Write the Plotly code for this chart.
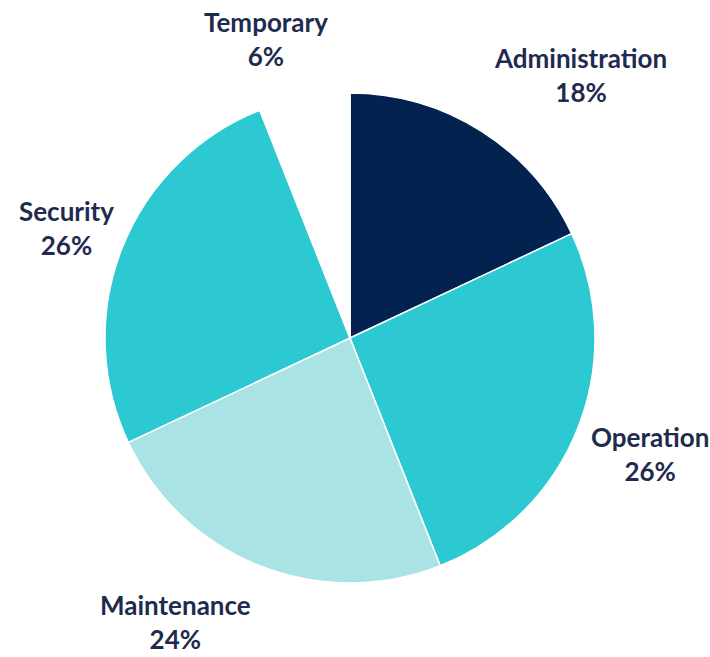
import plotly.graph_objects as go

# Staff distribution by department (percent)
departments = ["Administration", "Operation", "Maintenance", "Security", "Temporary"]
shares = [18, 26, 24, 26, 6]
slice_colors = ["#03224F", "#2CC9D2", "#A9E3E3", "#2CC9D2", "#FFFFFF"]

W, H = 710, 657
text_color = "#1E2B4E"

# Label anchor points in pixels (x, y from top)
label_pos = {
    "Administration": (580, 75),
    "Operation": (650, 454),
    "Maintenance": (175, 622),
    "Security": (66, 228),
    "Temporary": (266, 39),
}

# Pie centre and radius in pixels
cx, cy, r = 350, 338, 245

fig = go.Figure(
    go.Pie(
        labels=departments,
        values=shares,
        sort=False,
        direction="clockwise",
        rotation=0,
        marker=dict(colors=slice_colors, line=dict(color="#FFFFFF", width=1.5)),
        textinfo="none",
        hoverinfo="label+percent",
        domain=dict(
            x=[(cx - r) / W, (cx + r) / W],
            y=[(H - cy - r) / H, (H - cy + r) / H],
        ),
        showlegend=False,
    )
)

for name, val in zip(departments, shares):
    px, py = label_pos[name]
    fig.add_annotation(
        x=px / W,
        y=(H - py) / H,
        xref="paper",
        yref="paper",
        xanchor="center",
        yanchor="middle",
        text=f"<b>{name}<br>{val}%</b>",
        showarrow=False,
        align="center",
        font=dict(family="Lato", size=26, color=text_color),
    )

fig.update_layout(
    width=W,
    height=H,
    margin=dict(l=0, r=0, t=0, b=0),
    paper_bgcolor="#FFFFFF",
    plot_bgcolor="#FFFFFF",
)

fig.write_html("out.html")
